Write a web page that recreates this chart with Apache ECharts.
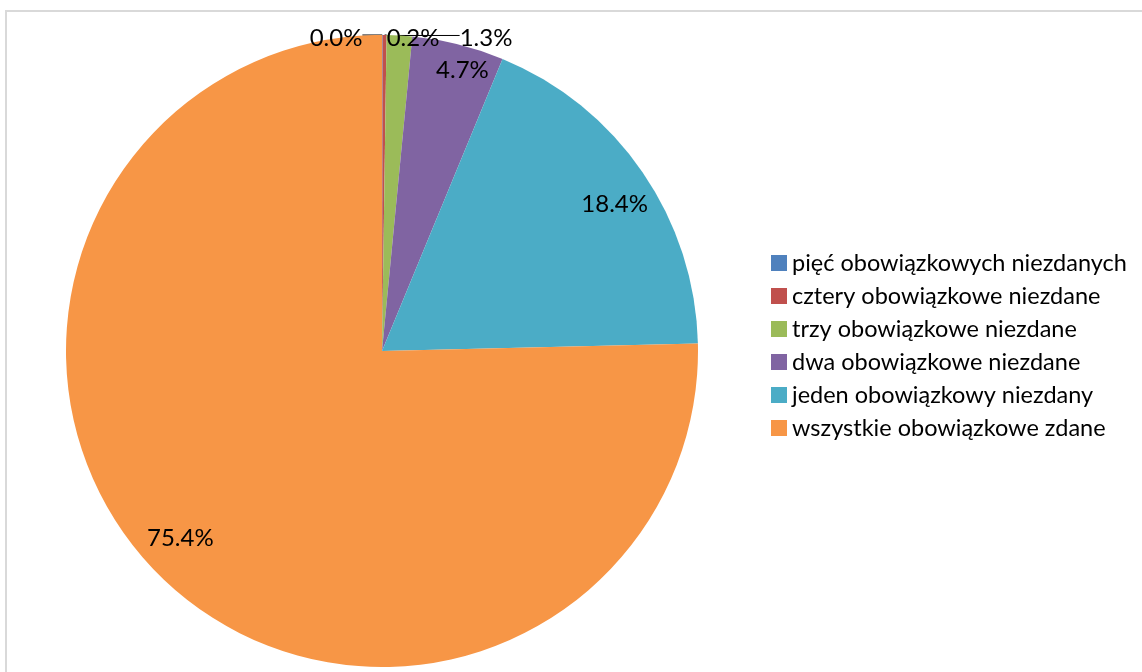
<!DOCTYPE html>
<html>
<head>
<meta charset="utf-8">
<script src="https://cdn.jsdelivr.net/npm/echarts@6/dist/echarts.min.js"></script>
<style>
html,body{margin:0;padding:0;background:#fff;}
#chart{width:1142px;height:672px;}
</style>
</head>
<body>
<div id="chart"></div>
<script>
const categories = [
  'pięć obowiązkowych niezdanych',
  'cztery obowiązkowe niezdane',
  'trzy obowiązkowe niezdane',
  'dwa obowiązkowe niezdane',
  'jeden obowiązkowy niezdany',
  'wszystkie obowiązkowe zdane'
];
const values = [0.03, 0.2, 1.3, 4.7, 18.4, 75.4];
const colors = ['#4F81BD', '#C0504D', '#9BBB59', '#8064A2', '#4BACC6', '#F79646'];

const CX = 382, CY = 351, R = 316;
const total = values.reduce((a, b) => a + b, 0);
const outsideCount = 3;

// mid angles (clockwise from top)
const mids = [];
let acc = 0;
values.forEach(v => { mids.push((acc + v / 2) / total * Math.PI * 2); acc += v; });

const chart = echarts.init(document.getElementById('chart'));
chart.setOption({
  animation: false,
  backgroundColor: '#fff',
  graphic: [{
    type: 'rect',
    shape: { x: 6, y: 11, width: 1200, height: 700 },
    style: { fill: 'none', stroke: '#d9d9d9', lineWidth: 2 },
    silent: true
  }],
  legend: {
    orient: 'vertical',
    left: 766,
    top: 246,
    itemWidth: 16,
    itemHeight: 16,
    itemGap: 9,
    icon: 'rect',
    textStyle: { fontFamily: 'Lato', fontSize: 23.5, lineHeight: 24, color: '#000', padding: [0, 0, 0, 0] },
    data: categories
  },
  series: [{
    type: 'pie',
    center: [CX, CY],
    radius: R,
    startAngle: 90,
    clockwise: true,
    minAngle: 0,
    avoidLabelOverlap: false,
    itemStyle: { borderWidth: 0 },
    label: {
      fontFamily: 'Lato',
      fontSize: 24,
      color: '#000',
      formatter: p => p.value.toFixed(1) + '%'
    },
    labelLine: { show: true, length: 5, length2: 5, lineStyle: { color: '#000', width: 1 } },
    labelLayout: function (params) {
      const i = params.dataIndex;
      if (i < outsideCount) {
        // small slices: labels placed along the top edge, leader lines horizontal
        const offs = [-46, 31, 104];
        const lx = CX + offs[i];
        const w = params.labelRect.width;
        const ax = CX + R * Math.sin(mids[i]);
        const ay = CY - R * Math.cos(mids[i]);
        const edge = ax < lx ? lx - w / 2 : lx + w / 2;
        return {
          x: lx, y: CY - R + 3, align: 'center', verticalAlign: 'middle',
          labelLinePoints: [[ax, ay], [edge, ay], [edge, ay]]
        };
      }
      const rr = [0, 0, 0, 0.925, 0.87, 0.87][i] * R;
      const adj = [0, 0, 0, 0.035, 0.04, 0.05][i];
      return {
        x: CX + rr * Math.sin(mids[i] + adj),
        y: CY - rr * Math.cos(mids[i] + adj),
        align: 'center', verticalAlign: 'middle'
      };
    },
    data: categories.map((c, i) => ({
      name: c,
      value: values[i],
      itemStyle: { color: colors[i] },
      label: { position: i < outsideCount ? 'outside' : 'inside' },
      labelLine: { show: i < outsideCount }
    }))
  }]
});
</script>
</body>
</html>
